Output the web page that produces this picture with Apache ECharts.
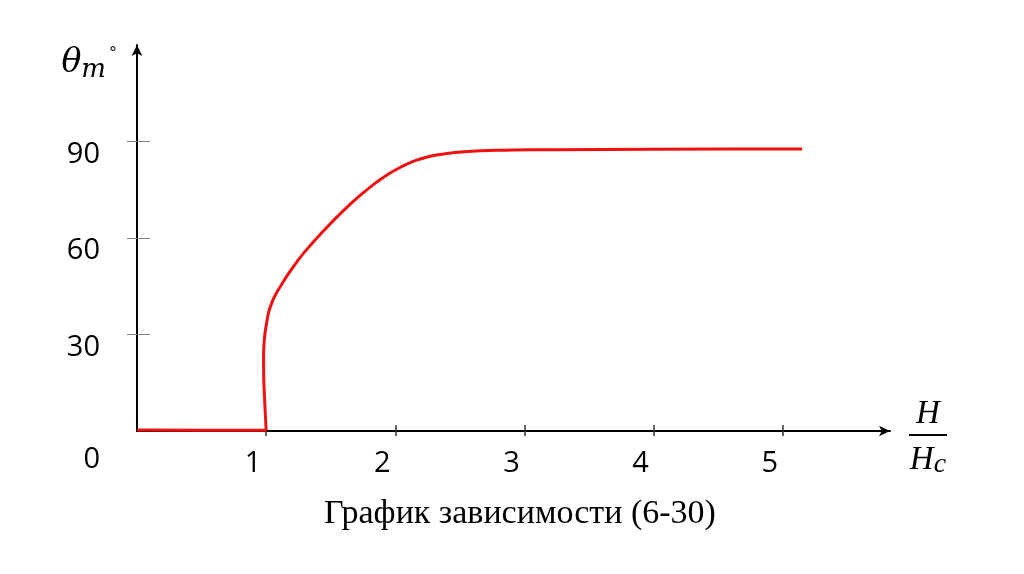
<!DOCTYPE html>
<html>
<head>
<meta charset="utf-8">
<script src="https://cdn.jsdelivr.net/npm/echarts@6/dist/echarts.min.js"></script>
<style>
  html, body { margin: 0; padding: 0; background: #fff; }
  #chart { width: 1024px; height: 574px; }
</style>
</head>
<body>
<div id="chart"></div>
<script>
// ratio H/Hc and angle theta_m (deg)
var flatX = [0, 0.5, 1.0];
var flatY = [0.3, 0.2, 0.2];
var curveX = [1.0, 0.99, 0.982, 0.98, 0.982, 0.99, 1.005, 1.02, 1.045, 1.075, 1.11, 1.145, 1.185, 1.225, 1.27, 1.32, 1.37, 1.42, 1.47, 1.52, 1.57, 1.635, 1.70, 1.765, 1.83, 1.895, 1.96, 2.025, 2.09, 2.165, 2.24, 2.32, 2.40, 2.53, 2.66, 2.78, 2.91, 3.20, 4.0, 5.15];
var curveY = [0.2, 8, 15, 21, 26, 30, 34, 37, 40, 42.6, 44.9, 47.2, 49.6, 51.9, 54.3, 56.7, 59.0, 61.2, 63.3, 65.4, 67.4, 69.9, 72.3, 74.5, 76.6, 78.5, 80.2, 81.7, 83.0, 84.2, 85.1, 85.8, 86.3, 86.8, 87.1, 87.25, 87.35, 87.45, 87.6, 87.7];
var xTicks = [1, 2, 3, 4, 5];
var yTicks = [30, 60, 90];
var yLabels = [0, 30, 60, 90];
var xMax = 5.83, yMax = 120;

function pairs(xs, ys) {
  return xs.map(function (x, i) { return [x, ys[i]]; });
}

var chart = echarts.init(document.getElementById('chart'));
var red = '#ee1111';
var labelFont = { fontFamily: 'Open Sans', fontSize: 29, color: '#000' };

chart.setOption({
  animation: false,
  title: {
    text: 'График зависимости (6-30)',
    left: 319,
    top: 492,
    textStyle: { fontFamily: 'Liberation Serif', fontSize: 34, fontWeight: 'normal', color: '#000' }
  },
  grid: { left: 137, right: 134, top: 45, bottom: 143, containLabel: false },
  xAxis: [{
    type: 'value', min: 0, max: xMax,
    axisLine: { lineStyle: { color: '#000', width: 2 }, symbol: ['none', 'arrow'], symbolSize: [8, 11] },
    axisTick: { show: true, length: 5, customValues: xTicks, lineStyle: { color: '#333', width: 1.5 } },
    axisLabel: Object.assign({ customValues: xTicks, margin: 18, padding: [0, 26, 0, 0] }, labelFont),
    splitLine: { show: false },
    name: '{n|H}\n{b|\u00a0}\n{n|H}{c|c}',
    nameLocation: 'end',
    nameGap: 38,
    nameTextStyle: {
      align: 'center', verticalAlign: 'middle', padding: [16, 0, 0, 0],
      rich: {
        n: { fontFamily: 'Liberation Serif', fontStyle: 'italic', fontSize: 33, color: '#000', lineHeight: 30 },
        c: { fontFamily: 'Liberation Serif', fontStyle: 'italic', fontSize: 28, color: '#000', padding: [10, 0, 0, 0] },
        b: { backgroundColor: '#000', width: 38, height: 2, fontSize: 2, lineHeight: 12 }
      }
    }
  }, {
    type: 'value', min: 0, max: xMax, position: 'bottom',
    axisLine: { show: false },
    axisTick: { show: true, inside: true, length: 6, customValues: xTicks, lineStyle: { color: '#333', width: 1.5 } },
    axisLabel: { show: false },
    splitLine: { show: false }
  }],
  yAxis: [{
    type: 'value', min: 0, max: yMax,
    axisLine: { lineStyle: { color: '#000', width: 2 }, symbol: ['none', 'arrow'], symbolSize: [8, 11] },
    axisTick: { show: true, length: 10, customValues: yTicks, lineStyle: { color: '#808080', width: 1 } },
    axisLabel: {
      customValues: yLabels,
      margin: 37,
      formatter: function (v) { return v === 0 ? '{z|0}' : '{a|' + v + '}'; },
      rich: {
        a: Object.assign({ padding: [26, 0, 0, 0] }, labelFont),
        z: Object.assign({ padding: [58, 0, 0, 0] }, labelFont)
      }
    },
    splitLine: { show: false },
    name: '{t|θ}{m|m}{d|°}',
    nameLocation: 'end',
    nameGap: 2,
    nameTextStyle: {
      align: 'right', verticalAlign: 'top', padding: [0, 20, 0, 0],
      rich: {
        t: { fontFamily: 'DejaVu Serif', fontStyle: 'italic', fontSize: 33, color: '#000' },
        m: { fontFamily: 'DejaVu Serif', fontStyle: 'italic', fontSize: 26, color: '#000', padding: [14, 0, 0, 0] },
        d: { fontFamily: 'DejaVu Sans', fontSize: 16, color: '#000', padding: [0, 0, 18, 3] }
      }
    }
  }, {
    type: 'value', min: 0, max: yMax, position: 'left',
    axisLine: { show: false },
    axisTick: { show: true, inside: true, length: 13, customValues: yTicks, lineStyle: { color: '#808080', width: 1 } },
    axisLabel: { show: false },
    splitLine: { show: false }
  }],
  series: [{
    type: 'line',
    data: pairs(flatX, flatY),
    showSymbol: false,
    lineStyle: { color: red, width: 3 }
  }, {
    type: 'line',
    data: pairs(curveX, curveY),
    showSymbol: false,
    smooth: 0.15,
    lineStyle: { color: red, width: 3 }
  }]
});
</script>
</body>
</html>
